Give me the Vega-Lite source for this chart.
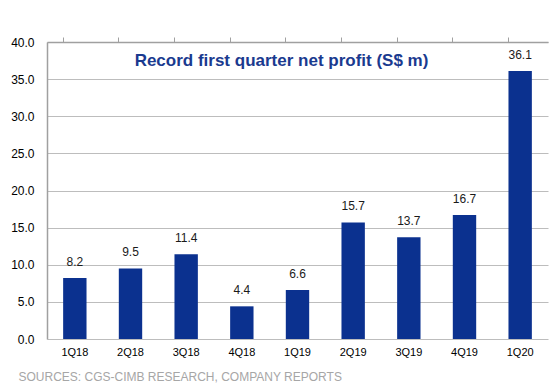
{
  "$schema": "https://vega.github.io/schema/vega-lite/v6.json",
  "autosize": {"type": "none"},
  "width": 501,
  "height": 297,
  "padding": {"left": 47, "top": 42, "right": 6, "bottom": 53},
  "background": "white",
  "config": {"view": {"stroke": null}, "font": "Liberation Sans"},
  "title": {
    "text": "Record first quarter net profit (S$ m)",
    "orient": "top",
    "anchor": "middle",
    "offset": -34,
    "dx": -16,
    "fontSize": 17,
    "fontWeight": "bold",
    "color": "#1a3a8f",
    "font": "Liberation Sans"
  },
  "data": {
    "values": [
      {"q": "1Q18", "v": 8.2},
      {"q": "2Q18", "v": 9.5},
      {"q": "3Q18", "v": 11.4},
      {"q": "4Q18", "v": 4.4},
      {"q": "1Q19", "v": 6.6},
      {"q": "2Q19", "v": 15.7},
      {"q": "3Q19", "v": 13.7},
      {"q": "4Q19", "v": 16.7},
      {"q": "1Q20", "v": 36.1}
    ]
  },
  "resolve": {"axis": {"x": "independent"}},
  "layer": [
    {
      "mark": {"type": "bar", "color": "#0b318f"},
      "encoding": {
        "x": {
          "field": "q", "type": "nominal", "sort": null,
          "scale": {"paddingInner": 0.58, "paddingOuter": 0.29},
          "axis": {
            "title": "SOURCES: CGS-CIMB RESEARCH, COMPANY REPORTS",
            "titleX": -29, "titleY": 37, "titleAlign": "left", "titleBaseline": "middle",
            "titleFont": "Liberation Sans", "titleFontSize": 12, "titleFontWeight": "normal", "titleColor": "#a6a6a6",
            "labelAngle": 0, "labelFontSize": 11, "labelColor": "#000000", "labelPadding": 7,
            "ticks": false, "domain": false, "grid": false
          }
        },
        "y": {
          "field": "v", "type": "quantitative",
          "scale": {"domain": [0, 40], "nice": false},
          "axis": {
            "title": null, "values": [0, 5, 10, 15, 20, 25, 30, 35, 40], "format": ".1f",
            "labelFontSize": 12, "labelColor": "#000000", "labelPadding": 13,
            "ticks": false, "domainColor": "#a0a0a0", "domainWidth": 1.5,
            "grid": true, "gridColor": "#bdbdbd", "gridWidth": 1
          }
        }
      }
    },
    {
      "mark": {"type": "text", "dy": -9, "fontSize": 12, "color": "#1a1a1a", "baseline": "bottom"},
      "encoding": {
        "x": {
          "field": "q", "type": "nominal", "sort": null,
          "axis": {
            "bandPosition": 0, "labels": false, "title": null, "ticks": true, "tickSize": 5,
            "tickColor": "#a0a0a0", "domainColor": "#a0a0a0", "domainWidth": 1.5, "grid": false
          }
        },
        "y": {
          "field": "v", "type": "quantitative",
          "axis": {
            "title": null, "values": [0, 5, 10, 15, 20, 25, 30, 35, 40], "format": ".1f",
            "labelFontSize": 12, "labelColor": "#000000", "labelPadding": 13,
            "ticks": false, "domainColor": "#a0a0a0", "domainWidth": 1.5,
            "grid": true, "gridColor": "#bdbdbd", "gridWidth": 1
          }
        },
        "text": {"field": "v", "type": "quantitative", "format": ".1f"}
      }
    }
  ]
}
